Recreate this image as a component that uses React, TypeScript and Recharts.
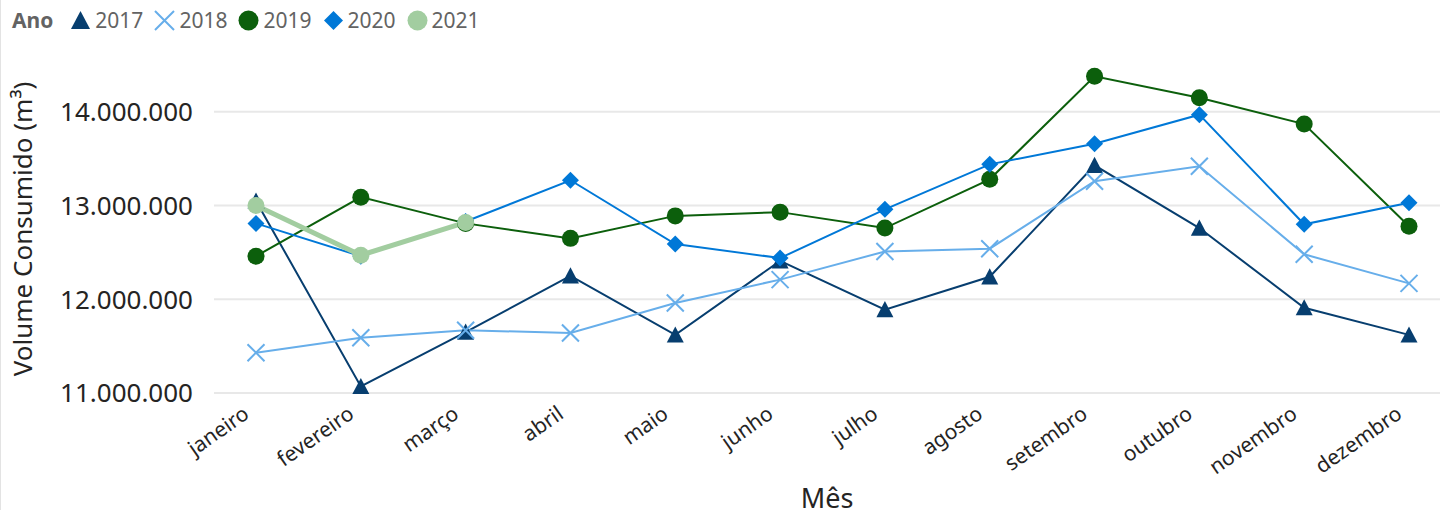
import React from "react";
import { LineChart, Line, XAxis, YAxis, CartesianGrid, Legend } from "recharts";

const months = [
  "janeiro", "fevereiro", "março", "abril", "maio", "junho",
  "julho", "agosto", "setembro", "outubro", "novembro", "dezembro",
];

const v2017 = [13050000, 11070000, 11650000, 12250000, 11620000, 12410000, 11890000, 12240000, 13430000, 12760000, 11910000, 11620000];
const v2018 = [11430000, 11590000, 11670000, 11640000, 11960000, 12210000, 12510000, 12540000, 13260000, 13420000, 12480000, 12170000];
const v2019 = [12460000, 13090000, 12810000, 12650000, 12890000, 12930000, 12760000, 13280000, 14380000, 14150000, 13870000, 12780000];
const v2020 = [12810000, 12460000, 12830000, 13270000, 12590000, 12440000, 12960000, 13440000, 13660000, 13970000, 12800000, 13030000];
const v2021 = [13000000, 12470000, 12820000];

const yTicks = [11000000, 12000000, 13000000, 14000000];

const series = [
  { key: "y2017", name: "2017", color: "#073E6F", shape: "triangle", width: 2 },
  { key: "y2018", name: "2018", color: "#67AEEA", shape: "x", width: 2 },
  { key: "y2019", name: "2019", color: "#0C5F0C", shape: "circle", width: 2 },
  { key: "y2020", name: "2020", color: "#0078D7", shape: "diamond", width: 2 },
  { key: "y2021", name: "2021", color: "#A2CDA0", shape: "circle", width: 5 },
];

const data = months.map((mes, i) => ({
  mes,
  y2017: v2017[i],
  y2018: v2018[i],
  y2019: v2019[i],
  y2020: v2020[i],
  y2021: v2021[i],
}));

const FONT = "'Segoe UI', 'Noto Sans', sans-serif";

const fmt = (v: number) => String(v).replace(/\B(?=(\d{3})+(?!\d))/g, ".");

function Marker({ shape, cx, cy, color, r = 8.5 }: any) {
  if (shape === "triangle") {
    return <path d={`M${cx},${cy - r}L${cx + r},${cy + r * 0.9}L${cx - r},${cy + r * 0.9}Z`} fill={color} />;
  }
  if (shape === "diamond") {
    return <path d={`M${cx},${cy - r}L${cx + r},${cy}L${cx},${cy + r}L${cx - r},${cy}Z`} fill={color} />;
  }
  if (shape === "x") {
    return (
      <path
        d={`M${cx - r},${cy - r}L${cx + r},${cy + r}M${cx + r},${cy - r}L${cx - r},${cy + r}`}
        stroke={color}
        strokeWidth={2}
        fill="none"
      />
    );
  }
  return <circle cx={cx} cy={cy} r={r} fill={color} />;
}

function makeDot(s: any) {
  return (p: any) => {
    if (p.cx == null || p.cy == null || p.value == null) return <g key={p.key ?? `${s.key}-${p.index}`} />;
    return (
      <g key={p.key ?? `${s.key}-${p.index}`}>
        <Marker shape={s.shape} cx={p.cx} cy={p.cy} color={s.color} />
      </g>
    );
  };
}

// month labels: baseline ends a little left of the tick, rotated -35deg
function MonthTick({ x, y, payload }: any) {
  const tx = x - 5.5;
  const ty = y + 16;
  return (
    <text
      x={tx}
      y={ty}
      transform={`rotate(-35, ${tx}, ${ty})`}
      textAnchor="end"
      fontSize={21}
      fill="#252423"
      fontFamily={FONT}
    >
      {payload.value}
    </text>
  );
}

function LegendContent() {
  return (
    <div style={{ height: 40, display: "flex", alignItems: "center", fontFamily: FONT, fontSize: 21, color: "#636363" }}>
      <span style={{ fontWeight: 700, marginRight: 17 }}>Ano</span>
      {series.map((s) => (
        <span key={s.key} style={{ display: "flex", alignItems: "center", marginRight: 11 }}>
          <svg width={21} height={21} style={{ marginRight: 4 }}>
            <Marker shape={s.shape} cx={10.5} cy={10.5} color={s.color} r={s.shape === "circle" ? 10 : 9.5} />
          </svg>
          <span>{s.name}</span>
        </span>
      ))}
    </div>
  );
}

export default function App() {
  return (
    <div style={{ position: "absolute", left: 0, top: 0, width: 1440, height: 510, background: "#fff", borderLeft: "1px solid #e3e3e3", boxSizing: "border-box" }}>
      <LineChart width={1439} height={510} data={data} margin={{ top: 25, right: 0, bottom: 0, left: 0 }}>
        <CartesianGrid vertical={false} horizontalValues={yTicks} stroke="#E8E8E8" strokeWidth={2} />
        <Legend verticalAlign="top" align="left" content={<LegendContent />} wrapperStyle={{ top: 0, left: 11 }} />
        <XAxis
          dataKey="mes"
          axisLine={false}
          tickLine={false}
          interval={0}
          height={117}
          padding={{ left: 42, right: 31 }}
          tick={<MonthTick />}
          label={{ value: "Mês", position: "insideBottom", offset: 2, fontSize: 27, fill: "#252423", fontFamily: FONT }}
        />
        <YAxis
          width={213}
          domain={[11000000, 14500000]}
          ticks={yTicks}
          tickFormatter={fmt}
          axisLine={false}
          tickLine={false}
          tickSize={0}
          tickMargin={21}
          tick={{ fontSize: 26, fill: "#252423", fontFamily: FONT }}
          label={{
            value: "Volume Consumido (m³)",
            angle: -90,
            position: "insideLeft",
            offset: 22,
            fontSize: 26,
            fill: "#252423",
            fontFamily: FONT,
            style: { textAnchor: "middle" },
          }}
        />
        {series.map((s) => (
          <Line
            key={s.key}
            dataKey={s.key}
            name={s.name}
            stroke={s.color}
            strokeWidth={s.width}
            dot={makeDot(s)}
            activeDot={false}
            isAnimationActive={false}
            type="linear"
          />
        ))}
      </LineChart>
    </div>
  );
}
